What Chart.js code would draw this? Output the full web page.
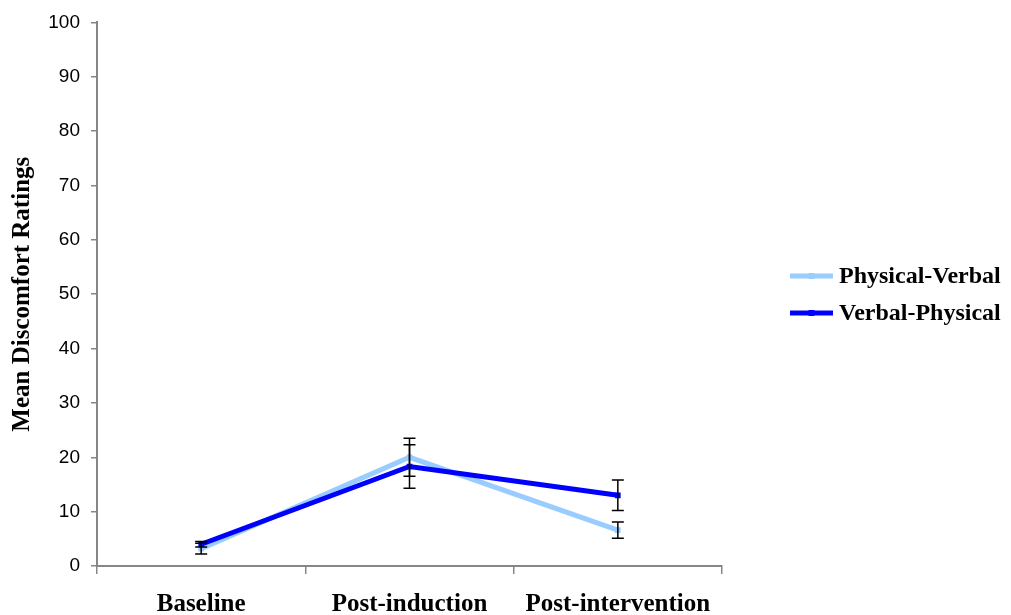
<!DOCTYPE html>
<html>
<head>
<meta charset="utf-8">
<script src="https://cdn.jsdelivr.net/npm/chart.js@4/dist/chart.umd.min.js"></script>
<style>
html,body{margin:0;padding:0;background:#fff;}
#wrap{width:1011px;height:615px;position:relative;}
</style>
</head>
<body>
<div id="wrap"><canvas id="c" width="1011" height="615"></canvas></div>
<script>
const categories = ['Baseline', 'Post-induction', 'Post-intervention'];
const seriesNames = ['Physical-Verbal', 'Verbal-Physical'];
const physicalVerbal = [3.2, 20.0, 6.6];
const physicalVerbalErr = [1.0, 3.5, 1.5];
const verbalPhysical = [4.0, 18.3, 13.0];
const verbalPhysicalErr = [0.5, 4.0, 2.8];
const yTicks = [0, 10, 20, 30, 40, 50, 60, 70, 80, 90, 100];
const yTitle = 'Mean Discomfort Ratings';

const colors = ['#99CCFF', '#0000FF'];
const axisGrey = '#868686';

const errorBars = {
  id: 'errorBars',
  afterDatasetsDraw(chart) {
    const ctx = chart.ctx;
    const errs = [physicalVerbalErr, verbalPhysicalErr];
    const y = chart.scales.y;
    ctx.save();
    ctx.strokeStyle = '#000';
    ctx.lineWidth = 1.5;
    chart.data.datasets.forEach((ds, di) => {
      const meta = chart.getDatasetMeta(di);
      meta.data.forEach((pt, i) => {
        const v = ds.data[i], e = errs[di][i];
        const x = pt.x;
        const yt = y.getPixelForValue(v + e);
        const yb = y.getPixelForValue(v - e);
        ctx.beginPath();
        ctx.moveTo(x, yt); ctx.lineTo(x, yb);
        ctx.moveTo(x - 6, yt); ctx.lineTo(x + 6, yt);
        ctx.moveTo(x - 6, yb); ctx.lineTo(x + 6, yb);
        ctx.stroke();
      });
    });
    ctx.restore();
  }
};

const customLegend = {
  id: 'customLegend',
  afterDraw(chart) {
    const ctx = chart.ctx;
    const ca = chart.chartArea;
    const x0 = ca.right + 68, x1 = x0 + 43;
    const rows = [276, 313];
    ctx.save();
    seriesNames.forEach((name, i) => {
      const yy = rows[i];
      ctx.strokeStyle = colors[i];
      ctx.lineWidth = 5;
      ctx.beginPath(); ctx.moveTo(x0, yy); ctx.lineTo(x1, yy); ctx.stroke();
      ctx.fillStyle = colors[i];
      ctx.fillRect((x0 + x1) / 2 - 3, yy - 3, 6, 6);
      ctx.fillStyle = '#000';
      ctx.font = 'bold 24px "Liberation Serif", "Times New Roman", serif';
      ctx.textBaseline = 'middle';
      ctx.textAlign = 'left';
      ctx.fillText(name, x1 + 6, yy + 1);
    });
    ctx.restore();
  }
};

new Chart(document.getElementById('c'), {
  type: 'line',
  data: {
    labels: categories,
    datasets: [
      {
        label: seriesNames[0], data: physicalVerbal,
        borderColor: colors[0], backgroundColor: colors[0],
        borderWidth: 5, pointStyle: 'rect', pointRadius: 4, pointBorderWidth: 0,
        tension: 0, order: 1
      },
      {
        label: seriesNames[1], data: verbalPhysical,
        borderColor: colors[1], backgroundColor: colors[1],
        borderWidth: 5, pointStyle: 'rect', pointRadius: 4, pointBorderWidth: 0,
        tension: 0, order: 0
      }
    ]
  },
  options: {
    responsive: false,
    animation: false,
    layout: { padding: { top: 21, right: 289, bottom: 0, left: 0 } },
    plugins: { legend: { display: false }, tooltip: { enabled: false } },
    scales: {
      x: {
        offset: true,
        grid: { offset: true, drawOnChartArea: false, drawTicks: true, tickLength: 8, color: axisGrey, lineWidth: 1.5 },
        border: { color: axisGrey, width: 2 },
        ticks: {
          color: '#000', padding: 16, maxRotation: 0, autoSkip: false,
          font: { family: '"Liberation Serif", "Times New Roman", serif', size: 25, weight: 'bold' }
        },
        afterFit(s) { s.height = 49; }
      },
      y: {
        min: 0, max: 100,
        afterBuildTicks(s) { s.ticks = yTicks.map(v => ({ value: v })); },
        grid: { drawOnChartArea: false, drawTicks: true, tickLength: 6, color: axisGrey, lineWidth: 1.5 },
        border: { color: axisGrey, width: 2 },
        ticks: {
          color: '#000', padding: 11,
          font: { family: '"Liberation Sans", Arial, sans-serif', size: 19 }
        },
        title: {
          display: true, text: yTitle, color: '#000',
          padding: { top: 8, bottom: 0 },
          font: { family: '"Liberation Serif", "Times New Roman", serif', size: 25, weight: 'bold' }
        },
        afterFit(s) { s.width = 97; }
      }
    }
  },
  plugins: [errorBars, customLegend]
});
</script>
</body>
</html>
